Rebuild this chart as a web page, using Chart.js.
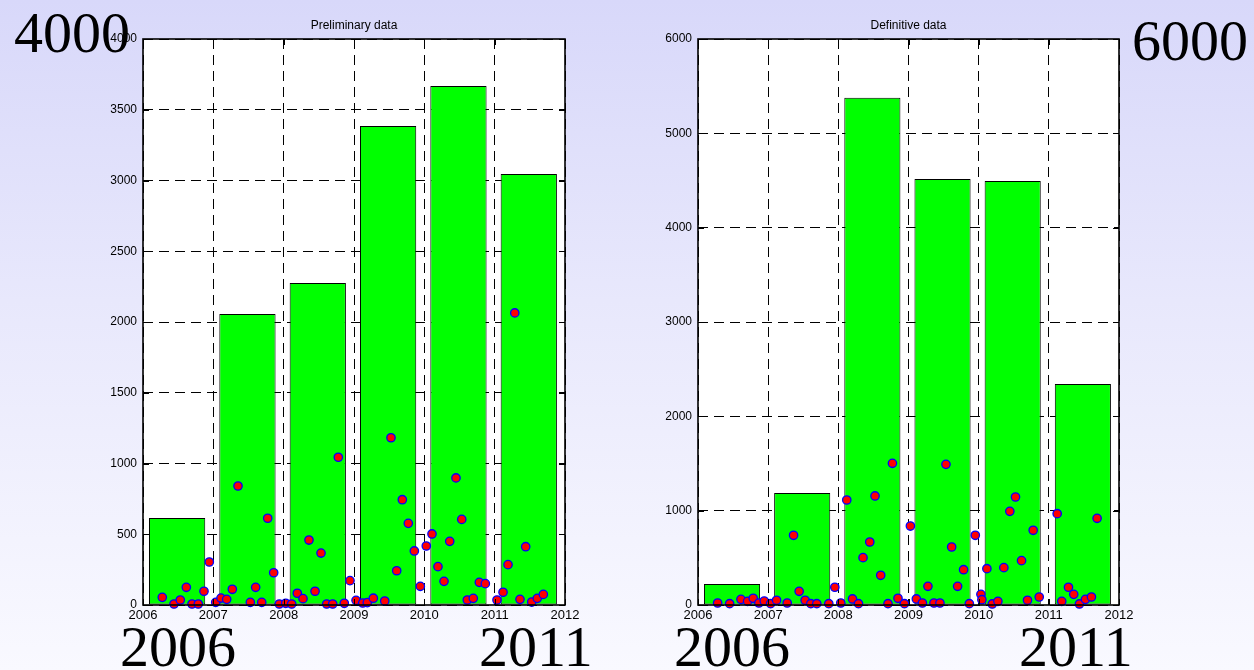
<!DOCTYPE html>
<html>
<head>
<meta charset="utf-8">
<title>Preliminary vs definitive data</title>
<script src="https://cdn.jsdelivr.net/npm/chart.js@4/dist/chart.umd.min.js"></script>
<style>
  html, body { margin: 0; padding: 0; }
  body {
    width: 1254px; height: 670px; position: relative; overflow: hidden;
    background: linear-gradient(to bottom, #d8d8fa 0%, #e8e8fc 45%, #f9f9ff 100%);
  }
  canvas { position: absolute; top: 0; }
  #left { left: 0; }
  #right { left: 627px; }
  .big {
    position: absolute; font-family: 'Liberation Serif', 'Times New Roman', serif;
    font-size: 58px; line-height: 58px; color: #000; white-space: nowrap; z-index: 2;
  }
</style>
</head>
<body>
<canvas id="left" width="627" height="670"></canvas>
<canvas id="right" width="627" height="670"></canvas>
<div class="big" style="left:14px; top:4px;">4000</div>
<div class="big" style="left:1132px; top:12px;">6000</div>
<div class="big" style="left:120px; top:618px;">2006</div>
<div class="big" style="left:479px; top:618px;">2011</div>
<div class="big" style="left:674px; top:618px;">2006</div>
<div class="big" style="left:1019px; top:618px;">2011</div>
<script>
// Yearly totals
const years = [2006, 2007, 2008, 2009, 2010, 2011];
const prelimTotals = [615, 2057, 2276, 3385, 3668, 3046];
const definitiveTotals = [223, 1188, 5376, 4517, 4496, 2343];

// Individual records (time in decimal years, value)
const prelimTimes = [
  2006.274, 2006.441, 2006.530, 2006.616, 2006.697, 2006.786, 2006.867, 2006.943,
  2007.034, 2007.109, 2007.190, 2007.270, 2007.351, 2007.526, 2007.602, 2007.688, 2007.773, 2007.858, 2007.938,
  2008.029, 2008.114, 2008.194, 2008.275, 2008.360, 2008.446, 2008.531, 2008.612, 2008.697, 2008.777, 2008.862, 2008.943,
  2009.029, 2009.124, 2009.189, 2009.275, 2009.437, 2009.526, 2009.607, 2009.687, 2009.772, 2009.858, 2009.943,
  2010.028, 2010.109, 2010.194, 2010.280, 2010.361, 2010.450, 2010.532, 2010.611, 2010.696, 2010.782, 2010.867,
  2011.033, 2011.119, 2011.190, 2011.286, 2011.360, 2011.441, 2011.527, 2011.606, 2011.692
];
const prelimValues = [
  54, 7, 35, 125, 7, 7, 97, 304,
  19, 49, 40, 111, 841, 19, 125, 19, 613, 228, 7,
  12, 7, 83, 45, 459, 97, 367, 7, 7, 1044, 12, 172,
  33, 14, 17, 48, 28, 1182, 242, 744, 577, 382, 132,
  417, 502, 271, 167, 450, 898, 605, 35, 47, 160, 151,
  35, 90, 285, 2064, 40, 412, 21, 47, 75
];
const definitiveTimes = [
  2006.280, 2006.451, 2006.612, 2006.707, 2006.787, 2006.868, 2006.944,
  2007.035, 2007.120, 2007.271, 2007.362, 2007.442, 2007.527, 2007.608, 2007.693, 2007.864, 2007.950,
  2008.035, 2008.120, 2008.202, 2008.287, 2008.352, 2008.448, 2008.523, 2008.604, 2008.708, 2008.771, 2008.850, 2008.942,
  2009.027, 2009.112, 2009.198, 2009.277, 2009.363, 2009.448, 2009.534, 2009.615, 2009.700, 2009.785, 2009.867, 2009.952,
  2010.032, 2010.046, 2010.117, 2010.194, 2010.274, 2010.359, 2010.444, 2010.525, 2010.611, 2010.696, 2010.777, 2010.863,
  2011.119, 2011.184, 2011.280, 2011.355, 2011.436, 2011.522, 2011.607, 2011.688
];
const definitiveValues = [
  21, 14, 60, 39, 71, 21, 42,
  14, 50, 21, 739, 145, 50, 14, 14, 14, 188,
  21, 1113, 64, 14, 502, 668, 1156, 315, 14, 1502, 71, 14,
  837, 64, 21, 198, 21, 21, 1491, 615, 198, 374, 14, 739,
  113, 56, 385, 11, 39, 396, 993, 1145, 470, 50, 792, 85,
  968, 39, 188, 113, 11, 60, 85, 919
];

// Axis ranges and tick steps
const xRange = [2006, 2012];
const prelimYMax = 4000, prelimYStep = 500;
const definitiveYMax = 6000, definitiveYStep = 1000;

Chart.defaults.font.family = "'Liberation Sans', Arial, sans-serif";
Chart.defaults.font.size = 13;
Chart.defaults.color = '#000';

// White plot area, solid frame and inward tick marks on all four sides
const framePlugin = {
  id: 'frameTicks',
  beforeDraw(chart) {
    const a = chart.chartArea, ctx = chart.ctx;
    ctx.save();
    ctx.fillStyle = '#ffffff';
    ctx.fillRect(a.left, a.top, a.right - a.left, a.bottom - a.top);
    ctx.restore();
  },
  afterDatasetsDraw(chart) {
    const a = chart.chartArea, ctx = chart.ctx;
    const xs = chart.scales.x, ys = chart.scales.y;
    const len = 6;
    ctx.save();
    ctx.setLineDash([]);
    ctx.strokeStyle = '#000';
    ctx.lineWidth = 1;
    ctx.beginPath();
    xs.ticks.forEach(t => {
      const px = Math.round(xs.getPixelForValue(t.value)) + 0.5;
      ctx.moveTo(px, a.bottom); ctx.lineTo(px, a.bottom - len);
      ctx.moveTo(px, a.top); ctx.lineTo(px, a.top + len);
    });
    ys.ticks.forEach(t => {
      const py = Math.round(ys.getPixelForValue(t.value)) + 0.5;
      ctx.moveTo(a.left, py); ctx.lineTo(a.left + len, py);
      ctx.moveTo(a.right, py); ctx.lineTo(a.right - len, py);
    });
    ctx.stroke();
    ctx.lineWidth = 1.6;
    ctx.strokeRect(a.left, a.top, a.right - a.left, a.bottom - a.top);
    ctx.restore();
  }
};

function makePanel(canvasId, title, totals, times, values, yMax, yStep, axisWidth, rightPad) {
  const plain = v => String(v);
  return new Chart(document.getElementById(canvasId), {
    type: 'bar',
    data: {
      datasets: [
        {
          type: 'scatter',
          data: times.map((t, i) => ({ x: t, y: values[i] })),
          backgroundColor: '#ff0000',
          borderColor: '#0000ff',
          pointRadius: 4.2,
          pointBorderWidth: 1.3,
          clip: false,
          order: 1
        },
        {
          type: 'bar',
          data: years.map((yr, i) => ({ x: yr + 0.485, y: totals[i] })),
          backgroundColor: '#00ff00',
          borderColor: '#000000',
          borderWidth: 1,
          borderSkipped: false,
          barPercentage: 1,
          categoryPercentage: 0.8,
          order: 2
        }
      ]
    },
    options: {
      responsive: false,
      animation: false,
      devicePixelRatio: 1,
      layout: { padding: { left: 0, right: rightPad, top: 0, bottom: 0 } },
      plugins: {
        legend: { display: false },
        tooltip: { enabled: false },
        title: {
          display: true,
          text: title,
          fullSize: false,
          color: '#000',
          font: { size: 12, weight: 'normal', lineHeight: 1 },
          padding: { top: 20, bottom: 7 }
        }
      },
      scales: {
        x: {
          type: 'linear',
          min: xRange[0],
          max: xRange[1],
          offset: false,
          grid: { offset: false, color: '#000', lineWidth: 1, drawTicks: false },
          border: { display: false, dash: [10, 6] },
          ticks: { stepSize: 1, padding: 3, maxRotation: 0, autoSkip: false, callback: plain, font: { size: 13 } },
          afterFit(s) { s.height = 65; }
        },
        y: {
          type: 'linear',
          min: 0,
          max: yMax,
          grid: { color: '#000', lineWidth: 1, drawTicks: false },
          border: { display: false, dash: [10, 6] },
          ticks: { stepSize: yStep, padding: 6, callback: plain, font: { size: 12 } },
          afterFit(s) { s.width = axisWidth; }
        }
      }
    },
    plugins: [framePlugin]
  });
}

makePanel('left', 'Preliminary data', prelimTotals, prelimTimes, prelimValues,
  prelimYMax, prelimYStep, 143, 62);
makePanel('right', 'Definitive data', definitiveTotals, definitiveTimes, definitiveValues,
  definitiveYMax, definitiveYStep, 71, 135);
</script>
</body>
</html>
